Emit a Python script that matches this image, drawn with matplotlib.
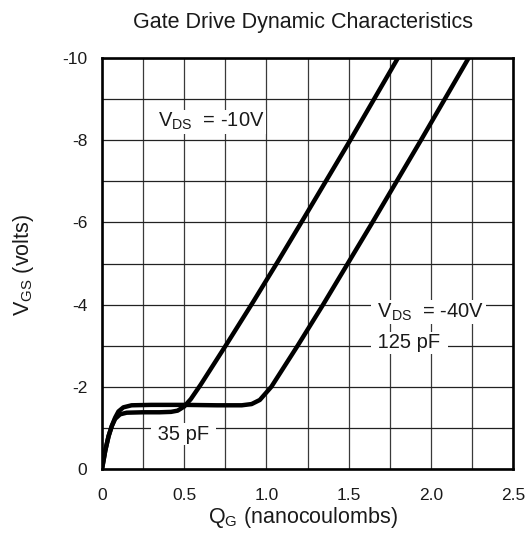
import matplotlib
matplotlib.use("Agg")
import matplotlib.pyplot as plt

plt.rcParams['font.family'] = ['Liberation Sans', 'DejaVu Sans']
plt.rcParams['mathtext.fontset'] = 'custom'
plt.rcParams['mathtext.rm'] = 'Liberation Sans'
plt.rcParams['mathtext.it'] = 'Liberation Sans'

# Data
qg_10v = [0, 0.02, 0.04, 0.06, 0.08, 0.11, 0.15, 0.25, 0.35, 0.42, 0.46, 0.50,
          0.54, 0.60, 0.76, 0.92, 1.07, 1.22, 1.51, 1.80]
vgs_10v = [0, -0.45, -0.80, -1.05, -1.22, -1.33, -1.37, -1.38, -1.38, -1.39, -1.42, -1.52,
           -1.70, -2.05, -3.05, -4.07, -5.05, -6.05, -8.0, -10.0]

qg_40v = [0, 0.02, 0.04, 0.06, 0.08, 0.10, 0.13, 0.18, 0.30, 0.50, 0.70, 0.85,
          0.91, 0.96, 1.03, 1.19, 1.345, 1.495, 1.645, 1.94, 2.23]
vgs_40v = [0, -0.45, -0.80, -1.05, -1.25, -1.40, -1.50, -1.55, -1.56, -1.56, -1.55, -1.55,
           -1.58, -1.68, -2.0, -3.0, -4.0, -5.0, -6.0, -8.0, -10.0]

x_ticks = [0, 0.5, 1.0, 1.5, 2.0, 2.5]
x_tick_labels = ['0', '0.5', '1.0', '1.5', '2.0', '2.5']
y_ticks = [0, -2, -4, -6, -8, -10]
y_tick_labels = ['0', '-2', '-4', '-6', '-8', '-10']

fig = plt.figure(figsize=(5.30, 5.33), dpi=100)
ax = fig.add_axes([102/530, 1-469/533, 411/530, 411/533])

ax.set_xlim(0, 2.5)
ax.set_ylim(0, -10)

# grid
for i in range(11):
    ax.axvline(i * 0.25, color='#3a3a3a', lw=0.9, zorder=1)
for v in range(0, -11, -1):
    ax.axhline(v, color='#222222', lw=0.9, zorder=1)

ax.plot(qg_10v, vgs_10v, color='black', lw=3.2, solid_capstyle='butt',
        solid_joinstyle='round', zorder=3)
ax.plot(qg_40v, vgs_40v, color='black', lw=3.2, solid_capstyle='butt',
        solid_joinstyle='round', zorder=3)

ax.set_xticks(x_ticks)
ax.set_xticklabels(x_tick_labels)
ax.set_yticks(y_ticks)
ax.set_yticklabels(y_tick_labels)
ax.tick_params(axis='both', length=0, labelsize=12.5, colors='#1a1a1a')
ax.tick_params(axis='x', pad=14)
ax.tick_params(axis='y', pad=10.5)

for s in ax.spines.values():
    s.set_linewidth(1.9)
    s.set_color('black')
    s.set_zorder(4)

bb = dict(facecolor='white', edgecolor='none', pad=1.0)
ax.text(0.34, -8.45, r'$\mathregular{V_{DS}}$  = -10V', fontsize=14.5, ha='left', va='center',
        bbox=bb, zorder=2, color='#1a1a1a')
ax.text(1.645, -3.82, r' $\mathregular{V_{DS}}$  = -40V ', fontsize=14.5, ha='left', va='center',
        bbox=bb, zorder=2, color='#1a1a1a')
ax.text(1.645, -3.07, ' 125 pF ', fontsize=14.5, ha='left', va='center',
        bbox=bb, zorder=2, color='#1a1a1a')
ax.text(0.305, -0.85, ' 35 pF ', fontsize=14.5, ha='left', va='center',
        bbox=bb, zorder=2, color='#1a1a1a')

fig.text(303/530, 1-28/533, 'Gate Drive Dynamic Characteristics', fontsize=15.5,
         ha='center', va='baseline', color='#1a1a1a')
fig.text(303/530, 1-523/533, r'$\mathregular{Q_G}$ (nanocoulombs)', fontsize=15.5,
         ha='center', va='baseline', color='#1a1a1a')
fig.text(24/530, 1-265/533, r'$\mathregular{V_{GS}}$ (volts)', fontsize=15.5,
         ha='center', va='center', rotation=90, color='#1a1a1a')

fig.savefig('out.png', dpi=100)
